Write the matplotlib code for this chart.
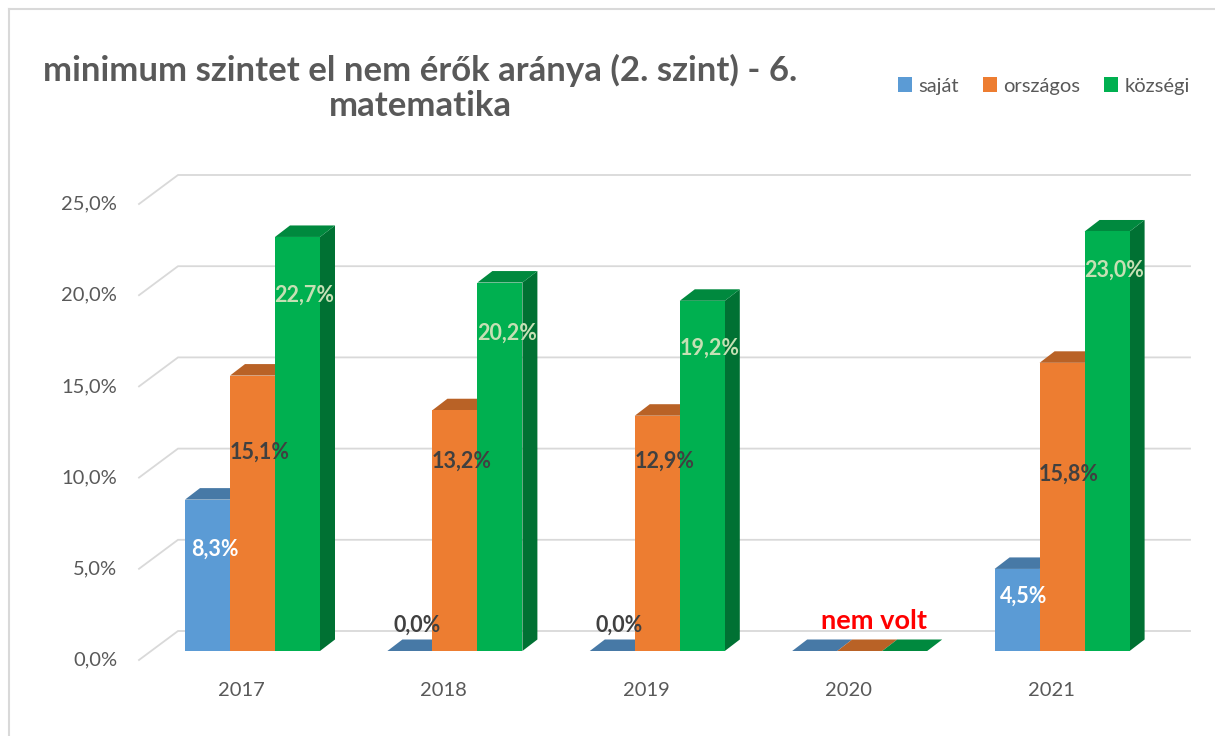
import numpy as np
import matplotlib.pyplot as plt
from matplotlib.patches import Polygon, Patch
from matplotlib.lines import Line2D
from matplotlib.colors import to_rgb

plt.rcParams['font.family'] = ['Lato', 'DejaVu Sans']

years = ['2017', '2018', '2019', '2020', '2021']
series = ['saját', 'országos', 'községi']
sajat = [8.3, 0.0, 0.0, 0.0, 4.5]
orszagos = [15.1, 13.2, 12.9, 0.0, 15.8]
kozsegi = [22.7, 20.2, 19.2, 0.0, 23.0]
yticks = [0, 5, 10, 15, 20, 25]

# where each value label sits (in % on the bar), None = no label
lab_sajat = [5.6, 1.4, 1.4, None, 3.0]
lab_orszagos = [10.9, 10.4, 10.4, None, 9.7]
lab_kozsegi = [19.5, 17.4, 16.6, None, 20.9]

colors = ['#5B9BD5', '#ED7D31', '#00B050']
lab_colors = ['white', '#404040', '#C5E0B4']
grey = '#595959'

# pixel -> data unit helpers (x: category index, y: percent)
PX = 1 / 202.4
PY = 1 / 18.24
W, H = 1215, 736

fig = plt.figure(figsize=(W / 100, H / 100), dpi=100)
ax = fig.add_axes([140 / W, (H - 680) / H, 1055 / W, 530 / H])
ax.set_xlim((140 - 252.5) * PX, (1195 - 252.5) * PX)
ax.set_ylim((651 - 680) * PY, (651 - 150) * PY)
ax.axis('off')


def shade(c, f):
    r, g, b = to_rgb(c)
    return (r * f, g * f, b * f)


# side wall + back wall gridlines
xf = (139 - 252.5) * PX
for t in yticks:
    yf = t - 9 * PY
    yb = t + 20 * PY
    xb = xf + 39 * PX
    ax.plot([xf, xb, (1190 - 252.5) * PX], [yf, yb, yb], color='#d9d9d9',
            lw=1.3, solid_joinstyle='miter', clip_on=False, zorder=1)
    ax.text((117 - 252.5) * PX, yf, f'{t:.1f}%'.replace('.', ','), ha='right',
            va='center', fontsize=14.5, color=grey)

# 3D-looking bars
bw = 45 * PX
dx, dy = 15 * PX, 11.5 * PY
data = [sajat, orszagos, kozsegi]
labs = [lab_sajat, lab_orszagos, lab_kozsegi]
for i in range(len(years)):
    left = i - 67.5 * PX
    for s in range(3):
        v = data[s][i]
        x0 = left + s * bw
        x1 = x0 + bw
        c = colors[s]
        if v > 0:
            ax.add_patch(Polygon([(x1, 0), (x1 + dx, dy), (x1 + dx, v + dy), (x1, v)],
                                 closed=True, fc=shade(c, 0.64), ec='none', zorder=3))
        ax.add_patch(Polygon([(x0, v), (x0 + dx, v + dy), (x1 + dx, v + dy), (x1, v)],
                             closed=True, fc=shade(c, 0.78), ec='none', zorder=3))
        if v > 0:
            ax.bar(x0, v, width=bw, align='edge', color=c, zorder=3)
        ly = labs[s][i]
        if ly is not None:
            col = lab_colors[s] if v > 0 else '#404040'
            ax.text(x0 + bw / 2 + 7 * PX, ly, f'{v:.1f}%'.replace('.', ','),
                    ha='center', va='center', fontsize=15.5, fontweight='bold',
                    color=col, zorder=5)
    ax.text(i - 11 * PX, (651 - 690) * PY, years[i], ha='center', va='center',
            fontsize=14.5, color=grey)

# 2020: no measurement
ax.text(3 + 14 * PX, (651 - 621) * PY, 'nem volt', ha='center', va='center',
        fontsize=19.5, fontweight='bold', color='red', zorder=5)

fig.text(420 / W, 1 - 88 / H, 'minimum szintet el nem érők aránya (2. szint) - 6.\nmatematika',
         ha='center', va='center', fontsize=25, fontweight='bold', color=grey,
         linespacing=1.13)

handles = [Patch(fc=c, ec='none') for c in colors]
fig.legend(handles, series, loc='center right', bbox_to_anchor=(1208 / W, 1 - 86 / H),
           ncol=3, frameon=False, fontsize=14.5, labelcolor=grey, handlelength=0.7,
           handleheight=0.7, handletextpad=0.3, columnspacing=1.2)

# chart area border (left and top edges)
fig.add_artist(Line2D([9 / W, 9 / W], [0, 1 - 9 / H], color='#d9d9d9', lw=1.5))
fig.add_artist(Line2D([9 / W, 1], [1 - 9 / H, 1 - 9 / H], color='#d9d9d9', lw=1.5))

fig.savefig('out.png', dpi=100)
